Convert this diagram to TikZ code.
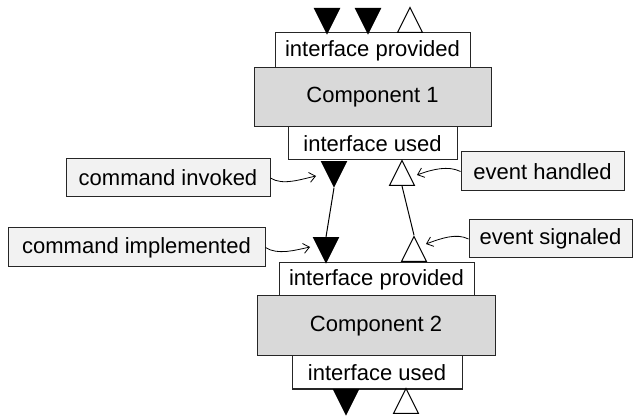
\documentclass[tikz,border=0pt]{standalone}
\usepackage{fontspec}
\setmainfont{Liberation Sans}
\usetikzlibrary{shapes.geometric,arrows.meta}
\begin{document}
\begin{tikzpicture}[
        x=1pt, y=-1pt,
        % Define styles
        iface/.style={draw=black!85, line width=1pt, fill=white, inner sep=0pt, minimum height=34pt},
        comp/.style={draw=black!85, line width=1pt, fill=black!15, inner sep=0pt, minimum height=60pt},
        note/.style={draw=black!85, line width=1pt, fill=black!5, inner sep=0pt, minimum height=38pt},
        tri/.style={isosceles triangle, isosceles triangle stretches, draw=black, line width=1pt,
            inner sep=0pt, minimum width=25pt, minimum height=25pt},
        cmd/.style={tri, fill=black, shape border rotate=270, anchor=north},
        evt/.style={tri, fill=white, shape border rotate=90, anchor=south},
        wire/.style={line width=1pt},
        pointer/.style={line width=0.8pt, -{Straight Barb[length=6pt,width=10pt]}},
        font=\fontsize{22}{26}\selectfont
    ]
        \useasboundingbox (0,0) rectangle (633,417);

        % --- Components ---
        \node[iface, minimum width=195pt, minimum height=35pt] (ip1) at (372.5,50.5) {interface provided};
        \node[comp, minimum width=237pt, minimum height=59pt] (comp1) at (372.5,97.5) {Component 1};
        \node[iface, minimum width=169pt, minimum height=33pt] (iu1) at (372.5,143.5) {interface used};

        \node[iface, minimum width=195pt, minimum height=33pt] (ip2) at (376.5,279.5) {interface provided};
        \node[comp, minimum width=238pt] (comp2) at (376,326) {Component 2};
        \node[iface, minimum width=170pt, minimum height=33pt] (iu2) at (377,372.5) {interface used};

        % --- Labels ---
        \node[note, minimum width=204pt] (cinv) at (168,178) {command invoked};
        \node[note, minimum width=257pt, minimum height=39pt] (cimpl) at (136.5,247.5) {command implemented};
        \node[note, minimum width=163pt, minimum height=39pt] (ehand) at (542.5,171.5) {event handled};
        \node[note, minimum width=163pt] (esig) at (550.5,239) {event signaled};

        % --- Triangles ---
        \node[cmd] (top1) at (327,8) {};
        \node[cmd] (top2) at (368,8) {};
        \node[evt] (top3) at (410,33) {};

        \node[cmd] (use1) at (334,161) {};
        \node[evt] (use2) at (402,186) {};
        \node[cmd] (prov1) at (326,237) {};
        \node[evt] (prov2) at (414,262) {};

        \node[cmd] (bot1) at (346,389) {};
        \node[evt] (bot2) at (406,414) {};

        % --- Wires ---
        \draw[wire] (use1.south) -- (prov1.north);
        \draw[wire] (use2.south) -- (prov2.north);

        % --- Pointers ---
        \coordinate (cinv-tip) at (316,176);
        \coordinate (cimpl-tip) at (310,247);
        \coordinate (ehand-tip) at (417,175);
        \coordinate (esig-tip) at (426,244);

        \draw[pointer] (cinv.east) .. controls +(12,8) and +(-14,3) .. (cinv-tip);
        \draw[pointer] (cimpl.east) .. controls +(12,8) and +(-14,3) .. (cimpl-tip);
        \draw[pointer] (ehand.west) .. controls +(-12,-6) and +(16,-6) .. (ehand-tip);
        \draw[pointer] (esig.west) .. controls +(-12,-6) and +(16,-6) .. (esig-tip);

    \end{tikzpicture}
\end{document}
